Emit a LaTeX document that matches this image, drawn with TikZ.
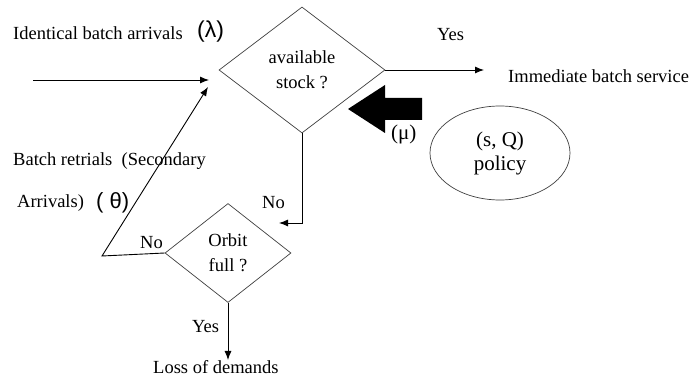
\documentclass[tikz,border=0pt]{standalone}
\usepackage{fontspec}
\setmainfont{Liberation Serif}
\newfontfamily\symfont{Liberation Sans}
\usetikzlibrary{shapes.geometric,arrows.meta}
\begin{document}
\begin{tikzpicture}[x=1pt,y=-1pt,
  txt/.style={inner sep=0pt,anchor=base west,font=\fontsize{18.5}{22}\selectfont},
  sym/.style={inner sep=0pt,anchor=base west,font=\symfont\fontsize{23}{26}\selectfont},
  decision/.style={diamond,draw=black!75,line width=0.7pt,inner sep=0pt,align=center,font=\fontsize{18.5}{25}\selectfont},
  flow/.style={line width=0.9pt,-{Latex[length=9pt,width=7pt]}},
  bigarrow/.style={fill=black}]
\fill[white] (0,0) rectangle (694,379);
\useasboundingbox (0,0) rectangle (694,379);

% decision nodes
\node[decision,minimum width=166pt,minimum height=126pt] (stock) at (302,70) {available\\stock ?};
\node[decision,minimum width=126pt,minimum height=99pt] (orbit) at (228,253) {Orbit\\full ?};

% inventory policy
\node[ellipse,draw=black!75,line width=0.7pt,inner sep=0pt,minimum width=140pt,minimum height=94pt,
      align=center,font=\fontsize{21}{24}\selectfont] (policy) at (500,153) {(s, Q)\\policy};

% replenishment arrow
\fill[bigarrow] (348,109) -- (385,85) -- (385,98) -- (422,98) -- (422,120) -- (385,120) -- (385,133) -- cycle;

% connector end points
\coordinate (arrIn) at (33,80);
\coordinate (arrTip) at (209,80);
\coordinate (retryCorner) at (102,256);
\coordinate (retryTip) at (208,87);
\coordinate (noTip) at (279,223);
\coordinate (serveTip) at (484,70);
\coordinate (lossTip) at (228,360);

% connectors
\draw[flow] (arrIn) -- (arrTip);
\draw[flow] (orbit.west) -- (retryCorner) -- (retryTip);
\draw[flow] (stock.south) -- (stock.south |- noTip) -- (noTip);
\draw[flow] (stock.east) -- (serveTip);
\draw[flow] (orbit.south) -- (lossTip);

% labels
\node[txt] (lArr) at (13,40) {Identical batch arrivals};
\node[sym] (lLambda) at (197,38) {(λ)};
\node[txt] (lYes1) at (437,41) {Yes};
\node[txt] (lServe) at (508,83) {Immediate batch service};
\node[txt,font=\fontsize{21}{24}\selectfont] (lMu) at (391,140) {(μ)};
\node[txt] (lRetry) at (13,166) {Batch retrials \ (Secondary};
\node[txt] (lArr2) at (17,208) {Arrivals)};
\node[sym,font=\symfont\fontsize{22}{26}\selectfont] (lTheta) at (96,209) {( θ)};
\node[txt] (lNo1) at (262,209) {No};
\node[txt] (lNo2) at (140,249) {No};
\node[txt] (lYes2) at (192,333) {Yes};
\node[txt] (lLoss) at (153,374) {Loss of demands};
\end{tikzpicture}
\end{document}
